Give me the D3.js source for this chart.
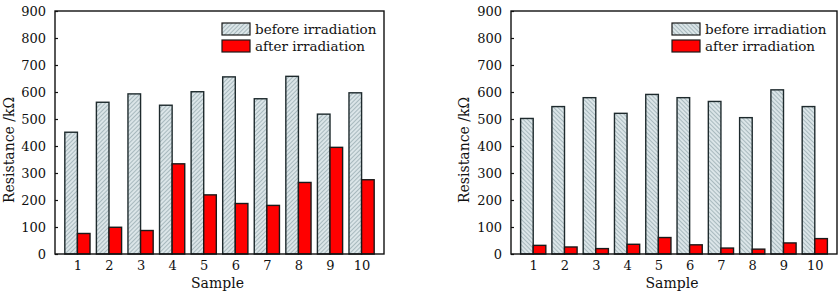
<!DOCTYPE html>
<html><head><meta charset="utf-8">
<script src="https://cdn.jsdelivr.net/npm/d3@7"></script>
<style>
html,body{margin:0;padding:0;background:#fff;}
svg{display:block;}
text{font-family:"DejaVu Serif","Liberation Serif",serif;fill:#111;}
</style></head>
<body>
<svg id="chart" width="840" height="294"></svg>
<script>
const categories = ["1","2","3","4","5","6","7","8","9","10"];
const leftBefore = [451, 562, 593, 551, 601, 656, 575, 658, 518, 597];
const leftAfter  = [76, 99, 87, 334, 219, 187, 180, 265, 395, 275];
const rightBefore = [502, 546, 579, 521, 591, 579, 565, 505, 608, 546];
const rightAfter  = [32, 26, 20, 36, 61, 34, 22, 18, 41, 57];
const yTicks = [0,100,200,300,400,500,600,700,800,900];
const seriesNames = ["before irradiation","after irradiation"];

const FONT = '"DejaVu Serif","Liberation Serif",serif';
const svg = d3.select("#chart");
const defs = svg.append("defs");
function hatch(id, angle){
  const p = defs.append("pattern").attr("id", id).attr("patternUnits","userSpaceOnUse")
    .attr("width", 3).attr("height", 3).attr("patternTransform", `rotate(${angle})`);
  p.append("rect").attr("width",3).attr("height",3).attr("fill","#dbe5e8");
  p.append("line").attr("x1",0).attr("y1",0).attr("x2",0).attr("y2",3)
    .attr("stroke","#7d949b").attr("stroke-width",1.1);
}
hatch("hatchL", 45);
hatch("hatchR", -45);

function panel(cfg){
  const g = svg.append("g");
  const x = d3.scalePoint().domain(categories).range([cfg.x0, cfg.x1]).padding(0.71);
  const y = d3.scaleLinear().domain([0,900]).range([cfg.yb, cfg.yt]);
  const bw = 12.6;

  g.selectAll(".b").data(cfg.before).join("rect")
    .attr("x",(d,i)=>x(categories[i]) - bw).attr("width",bw)
    .attr("y",d=>y(d)).attr("height",d=>y(0)-y(d))
    .attr("fill",`url(#${cfg.hatch})`).attr("stroke","#1e2a2d").attr("stroke-width",1.4);
  g.selectAll(".a").data(cfg.after).join("rect")
    .attr("x",(d,i)=>x(categories[i])).attr("width",bw)
    .attr("y",d=>y(d)).attr("height",d=>y(0)-y(d))
    .attr("fill","#ff0000").attr("stroke","#1a1a1a").attr("stroke-width",1.4);

  const ya = g.append("g").attr("transform",`translate(${cfg.x0},0)`)
    .call(d3.axisLeft(y).tickValues(yTicks).tickSizeInner(-3).tickSizeOuter(0).tickPadding(9));
  ya.select(".domain").remove();
  ya.selectAll("line").attr("stroke","#111").attr("stroke-width",1.2);
  ya.selectAll("text").attr("font-size",13).attr("font-family",FONT).attr("fill","#111");

  const xa = g.append("g").attr("transform",`translate(0,${cfg.yb})`)
    .call(d3.axisBottom(x).tickSize(0).tickPadding(7));
  xa.select(".domain").remove();
  xa.selectAll("text").attr("font-size",13).attr("font-family",FONT).attr("fill","#111");

  g.append("rect").attr("x",cfg.x0).attr("y",cfg.yt).attr("width",cfg.x1-cfg.x0).attr("height",cfg.yb-cfg.yt)
    .attr("fill","none").attr("stroke","#111").attr("stroke-width",1.4);

  g.append("text").attr("x",(cfg.x0+cfg.x1)/2 - 2).attr("y",288).attr("text-anchor","middle")
    .attr("font-size",14).text("Sample");
  g.append("text").attr("transform",`translate(${cfg.x0-cfg.ylOff},150) rotate(-90)`).attr("text-anchor","middle")
    .attr("font-size",14).text("Resistance /kΩ");

  const lg = g.append("g");
  const fills = [`url(#${cfg.hatch})`, "#ff0000"];
  seriesNames.forEach((s,i)=>{
    lg.append("rect").attr("x",cfg.lx).attr("y",23 + i*17).attr("width",28).attr("height",12)
      .attr("fill",fills[i]).attr("stroke","#1a1a1a").attr("stroke-width",1.2);
    lg.append("text").attr("x",cfg.lx+33).attr("y",33.5 + i*17).attr("font-size",13.5).text(s);
  });
}

panel({x0:55, x1:384, yt:11, yb:254, hatch:"hatchL", before:leftBefore, after:leftAfter, lx:222, ylOff:41});
panel({x0:511, x1:837, yt:11, yb:254, hatch:"hatchR", before:rightBefore, after:rightAfter, lx:672, ylOff:42});
</script>
</body></html>
